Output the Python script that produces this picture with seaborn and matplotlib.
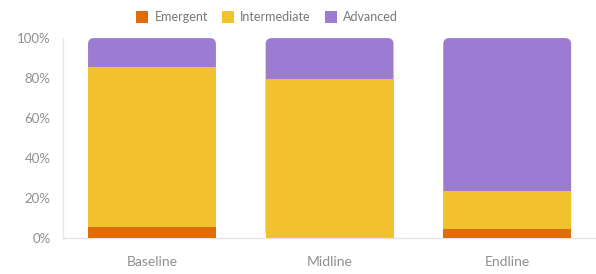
import numpy as np
import pandas as pd
import seaborn as sns
import matplotlib.pyplot as plt
from matplotlib.patches import FancyBboxPatch, Patch

stages = ["Baseline", "Midline", "Endline"]
emergent = [5.4, 0.0, 4.8]
intermediate = [80.2, 79.5, 18.9]
advanced = [14.4, 20.5, 76.3]

colors = {"Emergent": "#E06C0A", "Intermediate": "#F2C12E", "Advanced": "#9B7CD2"}

df = pd.DataFrame({"stage": stages, "Emergent": emergent,
                   "Intermediate": intermediate, "Advanced": advanced})
df["low"] = df["Emergent"]
df["mid"] = df["Emergent"] + df["Intermediate"]
df["top"] = df["mid"] + df["Advanced"]

sns.set_style("white")
plt.rcParams["font.family"] = ["Lato", "DejaVu Sans"]

fig = plt.figure(figsize=(5.96, 2.74), dpi=100)
ax = fig.add_axes([0.106, 0.131, 0.894, 0.730])

sns.barplot(data=df, x="stage", y="top", color=colors["Advanced"], width=0.72,
            saturation=1, linewidth=0, ax=ax, zorder=2)
n = len(stages)
# swap the top layer for rounded boxes
for p in list(ax.patches[:n]):
    x0, w, h = p.get_x(), p.get_width(), p.get_height()
    p.remove()
    ax.add_patch(FancyBboxPatch((x0, 0), w, h,
                                boxstyle="round,pad=0,rounding_size=0.034",
                                mutation_aspect=89, facecolor=colors["Advanced"],
                                edgecolor="none", linewidth=0, zorder=2))
sns.barplot(data=df, x="stage", y="mid", color=colors["Intermediate"], width=0.72,
            saturation=1, linewidth=0, ax=ax, zorder=3)
sns.barplot(data=df, x="stage", y="low", color=colors["Emergent"], width=0.72,
            saturation=1, linewidth=0, ax=ax, zorder=4)

ax.set_xlim(-0.5, 2.5)
ax.set_ylim(0, 100)
ax.set_yticks(range(0, 101, 20))
ax.set_yticklabels([f"{v}%" for v in range(0, 101, 20)])
ax.set_xlabel(None)
ax.set_ylabel(None)
ax.tick_params(axis="both", length=0, colors="#8f8f8f")
ax.tick_params(axis="x", pad=13, labelsize=10)
ax.tick_params(axis="y", pad=9, labelsize=9.5)
for s in ["top", "right"]:
    ax.spines[s].set_visible(False)
for s in ["left", "bottom"]:
    ax.spines[s].set_color("#e6e6e6")
    ax.spines[s].set_linewidth(1)

handles = [Patch(facecolor=colors[k], edgecolor="none") for k in ["Emergent", "Intermediate", "Advanced"]]
fig.legend(handles, ["Emergent", "Intermediate", "Advanced"], loc="upper center",
           bbox_to_anchor=(0.448, 1.0), ncol=3, frameon=False, fontsize=9,
           labelcolor="#777777", handlelength=1.0, handleheight=1.0,
           handletextpad=0.5, columnspacing=1.1)

plt.savefig("out.png", dpi=100)
